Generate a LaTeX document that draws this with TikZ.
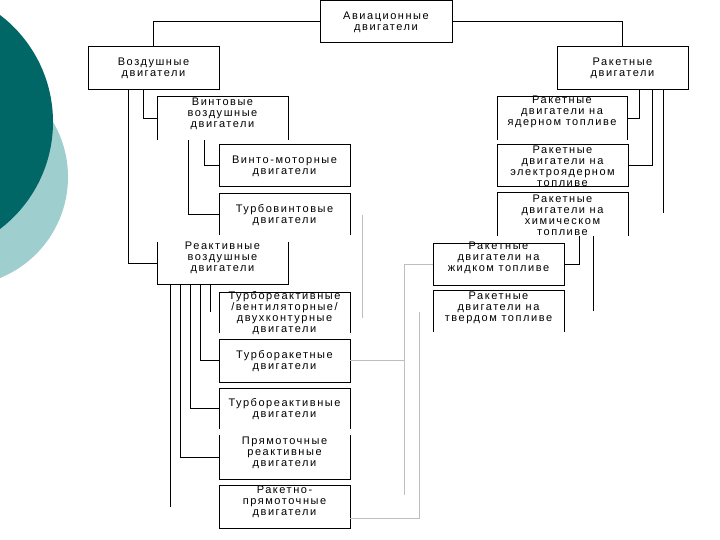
\documentclass[tikz,border=0pt]{standalone}
\usepackage{fontspec}
\newfontfamily\dfont[LetterSpace=14]{Liberation Sans}
\definecolor{darkteal}{RGB}{0,102,102}
\definecolor{lightteal}{RGB}{158,206,206}
\definecolor{glin}{RGB}{190,190,190}
\newcommand{\fullbox}[1]{\draw[edge] (#1.south west) rectangle (#1.north east);}
\newcommand{\openbottom}[1]{\draw[edge] (#1.south west) -- (#1.north west) -- (#1.north east) -- (#1.south east);}
\newcommand{\opentop}[1]{\draw[edge] (#1.north west) -- (#1.south west) -- (#1.south east) -- (#1.north east);}
\begin{document}
\begin{tikzpicture}[x=1pt,y=-1pt,
  boxn/.style={minimum width=131pt, minimum height=43pt, inner sep=0pt, outer sep=0pt},
  txt/.style={font=\dfont\fontsize{11}{11}\selectfont, align=center, inner sep=0pt},
  edge/.style={line width=1pt, black},
  gline/.style={line width=1pt, glin}]
\useasboundingbox (0,0) rectangle (720,540);
\begin{scope}
  \clip (0,0) rectangle (720,540);
  \fill[lightteal] (-41,177) circle[radius=109pt];
  \fill[darkteal] (-81.5,122) circle[radius=134.5pt];
\end{scope}

% boxes
\node[boxn, minimum width=132pt, minimum height=42pt] (avia) at (386,22) {};
\node[boxn] (vozd) at (153.5,68.5) {};
\node[boxn] (raket) at (622.5,68.5) {};
\node[boxn] (vint) at (222.5,118.5) {};
\node[boxn, minimum width=130pt] (yad) at (562,118.5) {};
\node[boxn, minimum height=42pt] (vm) at (284.5,166) {};
\node[boxn, minimum height=42pt] (el) at (562.5,166) {};
\node[boxn, minimum height=41pt] (tv) at (284.5,214.5) {};
\node[boxn] (him) at (562.5,214.5) {};
\node[boxn, minimum height=42pt] (react) at (222.5,263) {};
\node[boxn, minimum height=42pt] (zhid) at (498.5,264) {};
\node[boxn, minimum height=42pt] (tverd) at (498.5,311) {};
\node[boxn, minimum height=41pt] (tvent) at (284.5,312.5) {};
\node[boxn] (tr) at (284.5,360.5) {};
\node[boxn, minimum height=41pt] (trk) at (284.5,408.5) {};
\node[boxn, minimum height=44pt] (pr) at (284.5,457) {};
\node[boxn] (rp) at (284.5,506.5) {};

\fullbox{avia}
\fullbox{vozd}
\fullbox{raket}
\openbottom{vint}
\openbottom{yad}
\fullbox{vm}
\fullbox{el}
\openbottom{tv}
\openbottom{him}
\opentop{react}
\fullbox{zhid}
\openbottom{tverd}
\openbottom{tvent}
\fullbox{tr}
\openbottom{trk}
\opentop{pr}
\fullbox{rp}

% texts
\node[txt] (t-avia) at (386,22) {Авиационные\\двигатели};
\node[txt] (t-vozd) at (153.5,68.5) {Воздушные\\двигатели};
\node[txt] (t-raket) at (622.5,68.5) {Ракетные\\двигатели};
\node[txt] (t-vint) at (222.5,114) {Винтовые\\воздушные\\двигатели};
\node[txt] (t-yad) at (562,112) {Ракетные\\двигатели на\\ядерном топливе};
\node[txt] (t-vm) at (284.5,166) {Винто-моторные\\двигатели};
\node[txt] (t-el) at (562.5,166) {Ракетные\\двигатели на\\электроядерном\\топливе};
\node[txt] (t-tv) at (284.5,215) {Турбовинтовые\\двигатели};
\node[txt] (t-him) at (562.5,215) {Ракетные\\двигатели на\\химическом\\топливе};
\node[txt] (t-react) at (222.5,258) {Реактивные\\воздушные\\двигатели};
\node[txt] (t-zhid) at (498.5,258) {Ракетные\\двигатели на\\жидком топливе};
\node[txt] (t-tverd) at (498.5,308) {Ракетные\\двигатели на\\твердом топливе};
\node[txt] (t-tvent) at (284.5,313) {Турбореактивные\\/вентиляторные/\\двухконтурные\\двигатели};
\node[txt] (t-tr) at (284.5,361) {Турборакетные\\двигатели};
\node[txt] (t-trk) at (284.5,409) {Турбореактивные\\двигатели};
\node[txt] (t-pr) at (284.5,453) {Прямоточные\\реактивные\\двигатели};
\node[txt] (t-rp) at (284.5,502) {Ракетно-\\прямоточные\\двигатели};

% black connectors
\draw[edge] (avia.west) -| (vozd.north);
\draw[edge] (avia.east) -| (raket.north);
\draw[edge] ([xshift=-10.5pt]vozd.south) |- (vint.west);
\draw[edge] ([xshift=-25.5pt]vozd.south) |- (react.west);
\draw[edge] ([xshift=-18.5pt]vint.south) |- (vm.west);
\draw[edge] ([xshift=-34.5pt]vint.south) |- (tv.west);
\draw[edge] ([xshift=-12.5pt]react.south) -- ++(0,28) coordinate (s1);
\draw[edge] ([xshift=-22.5pt]react.south) |- (tr.west);
\draw[edge] ([xshift=-32.5pt]react.south) |- (trk.west);
\draw[edge] ([xshift=-42.5pt]react.south) |- (pr.west);
\draw[edge] ([xshift=-52.5pt]react.south) -- ++(0,223) coordinate (s2);
\draw[edge] ([xshift=16.5pt]raket.south) |- (yad.east);
\draw[edge] ([xshift=29.5pt]raket.south) |- (el.east);
\draw[edge] ([xshift=40.5pt]raket.south) -- ++(0,123) coordinate (s3);
\draw[edge] ([xshift=16.5pt]him.south) |- (zhid.east);
\draw[edge] ([xshift=30.5pt]him.south) -- ++(0,75) coordinate (s4);

% gray connectors
\coordinate (g0a) at (362,215);
\coordinate (g0b) at (362,318);
\coordinate (g1b) at (404,495);
\coordinate (g2) at (419,312);
\draw[gline] (g0a) -- (g0b);
\draw[gline] (zhid.west) -| (g1b);
\draw[gline] (tr.east) -- (tr.east -| g1b);
\draw[gline] ([yshift=-11.5pt]rp.east) -| (g2);
\end{tikzpicture}
\end{document}
